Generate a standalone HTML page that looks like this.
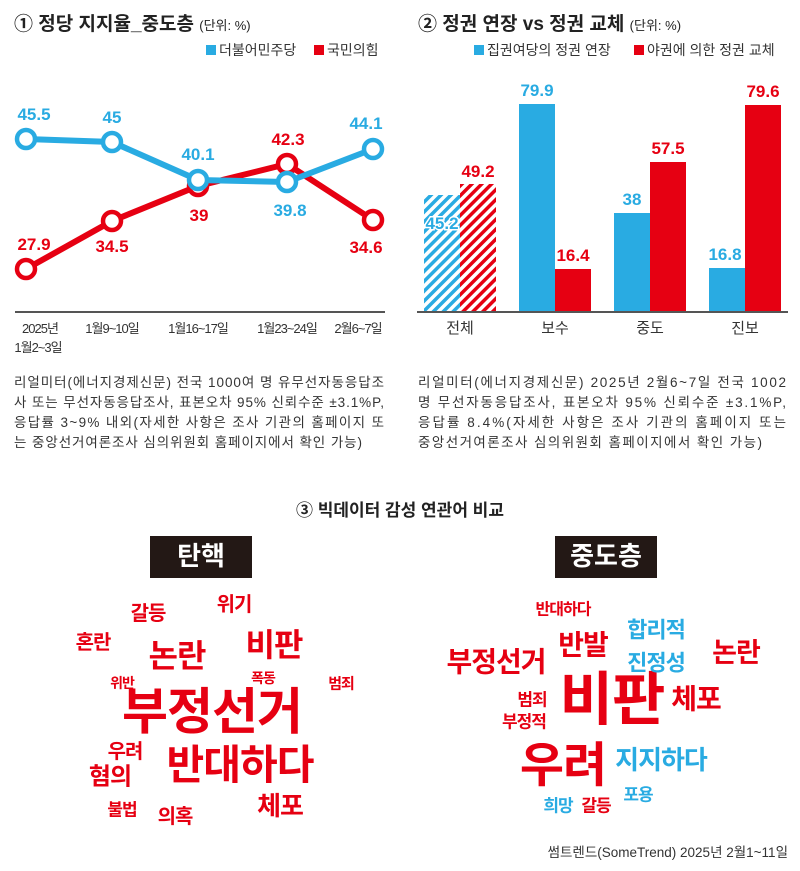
<!DOCTYPE html>
<html><head><meta charset="utf-8"><style>
body{margin:0;background:#fff;}
svg{display:block;font-family:"Liberation Sans","Noto Sans CJK KR",sans-serif;}
.b{font-weight:bold}
</style></head><body>
<svg width="800" height="871" viewBox="0 0 800 871" xmlns="http://www.w3.org/2000/svg">
<defs>
<pattern id="hb" patternUnits="userSpaceOnUse" width="7" height="7" patternTransform="rotate(45)"><rect width="3.5" height="7" fill="#29abe2"/></pattern>
<pattern id="hr" patternUnits="userSpaceOnUse" width="7" height="7" patternTransform="rotate(45)"><rect width="3.5" height="7" fill="#e60012"/></pattern>
</defs>
<!-- Chart 1 -->
<text x="14" y="30" font-size="19" class="b" fill="#222">① 정당 지지율_중도층 <tspan font-size="13" font-weight="normal">(단위: %)</tspan></text>
<rect x="206" y="45" width="10" height="10" fill="#29abe2"/><text x="219" y="55" font-size="14" fill="#333">더불어민주당</text>
<rect x="314" y="45" width="10" height="10" fill="#e60012"/><text x="327" y="55" font-size="14" fill="#333">국민의힘</text>
<polyline points="26,269 112,221 198,186 287,164 373,220" fill="none" stroke="#e60012" stroke-width="6"/>
<polyline points="26,139 112,142 198,180 287,182 373,149" fill="none" stroke="#29abe2" stroke-width="6"/>
<g fill="#fff" stroke="#e60012" stroke-width="4.5">
<circle cx="26" cy="269" r="9"/><circle cx="112" cy="221" r="9"/><circle cx="198" cy="186" r="9"/><circle cx="287" cy="164" r="9"/><circle cx="373" cy="220" r="9"/></g>
<g fill="#fff" stroke="#29abe2" stroke-width="4.5">
<circle cx="26" cy="139" r="9"/><circle cx="112" cy="142" r="9"/><circle cx="198" cy="180" r="9"/><circle cx="287" cy="182" r="9"/><circle cx="373" cy="149" r="9"/></g>
<g font-size="17" class="b" fill="#29abe2" text-anchor="middle">
<text x="34" y="120">45.5</text><text x="112" y="123">45</text><text x="198" y="160">40.1</text><text x="290" y="216">39.8</text><text x="366" y="129">44.1</text></g>
<g font-size="17" class="b" fill="#e60012" text-anchor="middle">
<text x="34" y="250">27.9</text><text x="112" y="252">34.5</text><text x="199" y="221">39</text><text x="288" y="145">42.3</text><text x="366" y="253">34.6</text></g>
<line x1="15" y1="312" x2="385" y2="312" stroke="#555" stroke-width="2"/>
<g font-size="13" fill="#333" text-anchor="middle" letter-spacing="-1">
<text x="40" y="333">2025년</text><text x="38" y="352">1월2~3일</text>
<text x="112" y="333">1월9~10일</text><text x="198" y="333">1월16~17일</text><text x="287" y="333">1월23~24일</text><text x="358" y="333">2월6~7일</text></g>
<g font-size="13.5" fill="#333" lengthAdjust="spacing">
<text x="14" y="387" textLength="370">리얼미터(에너지경제신문) 전국 1000여 명 유무선자동응답조</text>
<text x="14" y="407" textLength="370">사 또는 무선자동응답조사, 표본오차 95% 신뢰수준 ±3.1%P,</text>
<text x="14" y="427" textLength="370">응답률 3~9% 내외(자세한 사항은 조사 기관의 홈페이지 또</text>
<text x="14" y="447" textLength="348">는 중앙선거여론조사 심의위원회 홈페이지에서 확인 가능)</text></g>
<!-- Chart 2 -->
<text x="418" y="30" font-size="19" class="b" fill="#222">② 정권 연장 vs 정권 교체 <tspan font-size="13" font-weight="normal">(단위: %)</tspan></text>
<rect x="474" y="45" width="10" height="10" fill="#29abe2"/><text x="487" y="55" font-size="14" fill="#333">집권여당의 정권 연장</text>
<rect x="634" y="45" width="10" height="10" fill="#e60012"/><text x="647" y="55" font-size="14" fill="#333">야권에 의한 정권 교체</text>
<rect x="424" y="195" width="36" height="117" fill="url(#hb)"/>
<rect x="460" y="184" width="36" height="128" fill="url(#hr)"/>
<rect x="519" y="104" width="36" height="208" fill="#29abe2"/><rect x="555" y="269" width="36" height="43" fill="#e60012"/>
<rect x="614" y="213" width="36" height="99" fill="#29abe2"/><rect x="650" y="162" width="36" height="150" fill="#e60012"/>
<rect x="709" y="268" width="36" height="44" fill="#29abe2"/><rect x="745" y="105" width="36" height="207" fill="#e60012"/>
<line x1="417" y1="312" x2="788" y2="312" stroke="#555" stroke-width="2"/>
<g font-size="17" class="b" text-anchor="middle">
<text x="442" y="229" fill="#29abe2" stroke="#fff" stroke-width="3" paint-order="stroke">45.2</text>
<text x="478" y="177" fill="#e60012">49.2</text>
<text x="537" y="96" fill="#29abe2">79.9</text><text x="573" y="261" fill="#e60012">16.4</text>
<text x="632" y="205" fill="#29abe2">38</text><text x="668" y="154" fill="#e60012">57.5</text>
<text x="725" y="260" fill="#29abe2">16.8</text><text x="763" y="97" fill="#e60012">79.6</text></g>
<g font-size="15" fill="#333" text-anchor="middle">
<text x="460" y="333">전체</text><text x="555" y="333">보수</text><text x="650" y="333">중도</text><text x="745" y="333">진보</text></g>
<g font-size="13.5" fill="#333" lengthAdjust="spacing">
<text x="418" y="387" textLength="368">리얼미터(에너지경제신문) 2025년 2월6~7일 전국 1002</text>
<text x="418" y="407" textLength="368">명 무선자동응답조사, 표본오차 95% 신뢰수준 ±3.1%P,</text>
<text x="418" y="427" textLength="368">응답률 8.4%(자세한 사항은 조사 기관의 홈페이지 또는</text>
<text x="418" y="447" textLength="344">중앙선거여론조사 심의위원회 홈페이지에서 확인 가능)</text></g>
<!-- Chart 3 -->
<text x="400" y="516" font-size="17" class="b" fill="#222" text-anchor="middle">③ 빅데이터 감성 연관어 비교</text>
<rect x="150" y="536" width="102" height="42" fill="#231815"/>
<text x="201" y="565" font-size="26" class="b" fill="#fff" text-anchor="middle">탄핵</text>
<rect x="555" y="536" width="102" height="42" fill="#231815"/>
<text x="606" y="565" font-size="26" class="b" fill="#fff" text-anchor="middle">중도층</text>
<g class="b" fill="#e60012" text-anchor="middle" dominant-baseline="central" letter-spacing="-1">
<text x="148" y="614" font-size="20">갈등</text>
<text x="234" y="605" font-size="20">위기</text>
<text x="93" y="643" font-size="20">혼란</text>
<text x="177" y="656" font-size="32">논란</text>
<text x="274" y="645" font-size="32">비판</text>
<text x="122" y="683" font-size="14">위반</text>
<text x="263" y="678" font-size="14">폭동</text>
<text x="341" y="684" font-size="15">범죄</text>
<text x="212" y="712" font-size="50">부정선거</text>
<text x="125" y="752" font-size="20">우려</text>
<text x="240" y="765" font-size="41">반대하다</text>
<text x="110" y="777" font-size="24">혐의</text>
<text x="122" y="810" font-size="17">불법</text>
<text x="175" y="817" font-size="20">의혹</text>
<text x="280" y="806" font-size="26">체포</text>
<text x="563" y="610" font-size="16">반대하다</text>
<text x="583" y="645" font-size="28">반발</text>
<text x="736" y="653" font-size="27">논란</text>
<text x="496" y="662" font-size="28">부정선거</text>
<text x="532" y="700" font-size="17">범죄</text>
<text x="612" y="700" font-size="58">비판</text>
<text x="696" y="699" font-size="28">체포</text>
<text x="524" y="722" font-size="17">부정적</text>
<text x="563" y="766" font-size="48">우려</text>
<text x="596" y="806" font-size="17">갈등</text>
</g>
<g class="b" fill="#29abe2" text-anchor="middle" dominant-baseline="central" letter-spacing="-1">
<text x="656" y="630" font-size="22">합리적</text>
<text x="656" y="663" font-size="22">진정성</text>
<text x="661" y="760" font-size="26">지지하다</text>
<text x="638" y="795" font-size="17">포용</text>
<text x="558" y="806" font-size="17">희망</text>
</g>
<text x="788" y="857" font-size="13.5" fill="#333" text-anchor="end">썸트렌드(SomeTrend) 2025년 2월1~11일</text>
</svg>
</body></html>
